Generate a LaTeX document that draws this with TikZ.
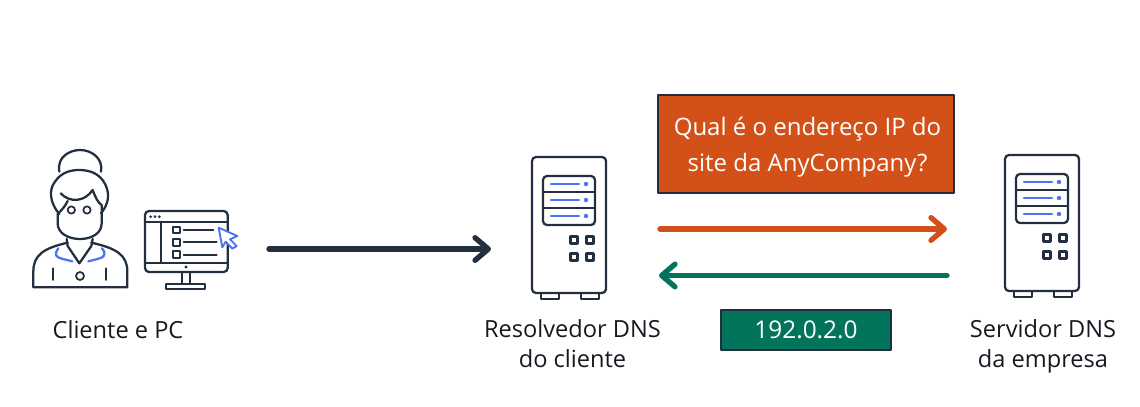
\documentclass[tikz,border=0pt]{standalone}
\usepackage{fontspec}
\setmainfont{Open Sans}
\usetikzlibrary{arrows.meta}
\definecolor{inkdark}{HTML}{232F3E}
\definecolor{textdark}{HTML}{16191F}
\definecolor{inkblue}{HTML}{4D72F3}
\definecolor{askorange}{HTML}{D35118}
\definecolor{replygreen}{HTML}{02745C}
\tikzset{every path/.style={inkdark,line width=1.7pt,line cap=round,line join=round},
  thinline/.style={line width=1.3pt},
  blueline/.style={inkblue,line width=1.7pt},
  flowarrow/.style={line width=4pt,line cap=round,-{Straight Barb[length=10pt,width=17pt,line width=4pt,round]}},
  caption/.style={textdark,font=\fontsize{17.7}{22.5}\selectfont,align=center,inner sep=0pt},
  msgbox/.style={draw=inkdark,line width=.8pt,text=white,align=center,inner sep=0pt}}

\begin{document}
\begin{tikzpicture}[x=.75pt,y=-.75pt]
   \useasboundingbox (0,0) rectangle (1140,407);
   % client and pc, traced in zoom units
   \begin{scope}[shift={(20,140)},x=.25pt,y=-.25pt]
    \draw (118,95) .. controls (110,50) and (150,30) .. (180,30) .. controls (215,30) and (250,55) .. (243,95);
    \draw (118,222) .. controls (90,190) and (85,150) .. (105,125) .. controls (125,95) and (155,90) .. (178,90) .. controls (215,90) and (250,105) .. (262,150) .. controls (270,180) and (255,205) .. (243,220);
    \draw (122,160) .. controls (150,190) and (195,185) .. (218,150) .. controls (225,170) and (235,190) .. (245,195) -- (245,250) .. controls (245,280) and (215,297) .. (180,297) .. controls (145,297) and (113,280) .. (113,250) -- (113,222) .. controls (125,210) and (135,200) .. (143,183);
    \draw[thinline] (154,210) circle(11) (201,210) circle(11);
    \draw (140,297) -- (143,318) -- (178,370) -- (214,318) -- (218,297);
    \draw (143,308) .. controls (70,325) and (40,345) .. (40,395) -- (40,442) -- (322,442) -- (322,395) .. controls (322,345) and (290,325) .. (214,308);
    \draw[blueline] (115,325) .. controls (100,345) and (110,352) .. (125,356) -- (157,364);
    \draw[blueline] (246,325) .. controls (262,345) and (250,352) .. (236,356) -- (205,364);
    \draw[thinline] (98,385) -- (98,420) (258,385) -- (258,420);
    \draw[thinline] (180,408) circle(12);
    % monitor
    \draw[rounded corners=3pt] (375,213) rectangle (623,396);
    \draw (375,245) -- (623,245) (375,368) -- (623,368) (423,245) -- (423,368);
    \foreach \dotx in {392,405,418} \fill (\dotx,230) circle(4.5);
    \foreach \rowy/\rowend in {270/580,307/590,344/590} {
      \draw[thinline] (459,\rowy-10) rectangle (479,\rowy+10);
      \draw[thinline] (491,\rowy) -- (\rowend,\rowy);
    }
    \fill (498,381) circle(5);
    \draw (486,396) -- (486,432) (510,396) -- (510,432);
    \draw (438,432) rectangle (556,447);
    \draw[blueline,line width=1.4pt,fill=white] (596,263) -- (652,288) -- (630,298) -- (650,318) -- (637,326) -- (617,305) -- (607,322) -- cycle;
   \end{scope}
   % both servers
   \foreach \boxx/\boxy in {0/0,473/-2} {
   \begin{scope}[shift={(\boxx,\boxy)}]
    \draw[rounded corners=3pt] (532,157) rectangle (606,293);
    \draw (541,293) -- (541,299) -- (559,299) -- (559,293) (581,293) -- (581,299) -- (599,299) -- (599,293);
    \draw[rounded corners=3pt] (543,176) rectangle (595,225);
    \draw (543,192) -- (595,192) (543,208) -- (595,208);
    \foreach \rowy in {184,200,216} {
      \draw[blueline] (551,\rowy) -- (579,\rowy);
      \fill[inkblue] (586,\rowy) circle(2.2);
    }
    \foreach \sqx in {574,590} \foreach \sqy in {240,257}
      \draw (\sqx-3.5,\sqy-3.5) rectangle (\sqx+3.5,\sqy+3.5);
   \end{scope}
   }
   \node[caption] (clientlabel) at (118,330) {Cliente e PC};
   \node[caption,anchor=north] (resolverlabel) at (572.5,318.5) {Resolvedor DNS\\do cliente};
   \node[caption,anchor=north] (serverlabel) at (1043,318.5) {Servidor DNS\\da empresa};
   \node[msgbox,fill=askorange,minimum width=222pt,minimum height=73.5pt] (askbox) at (806,144) {};
   \node[msgbox,draw=none,font=\fontsize{18}{27}\selectfont] (asktext) at (807.5,147) {Qual é o endereço IP do\\site da AnyCompany?};
   \node[msgbox,fill=replygreen,minimum width=127.5pt,minimum height=30pt,font=\fontsize{18.3}{22}\selectfont] (replybox) at (806,330) {192.0.2.0};
   \coordinate (clientout) at (269,249);
   \coordinate (resolverin) at (491,249);
   \coordinate (askstart) at (660,229);
   \coordinate (askend) at (947,229);
   \coordinate (replystart) at (947,275.5);
   \coordinate (replyend) at (659,275.5);
   \draw[flowarrow] (clientout) -- (resolverin);
   \draw[flowarrow,askorange] (askstart) -- (askend);
   \draw[flowarrow,replygreen] (replystart) -- (replyend);
  \end{tikzpicture}
\end{document}
